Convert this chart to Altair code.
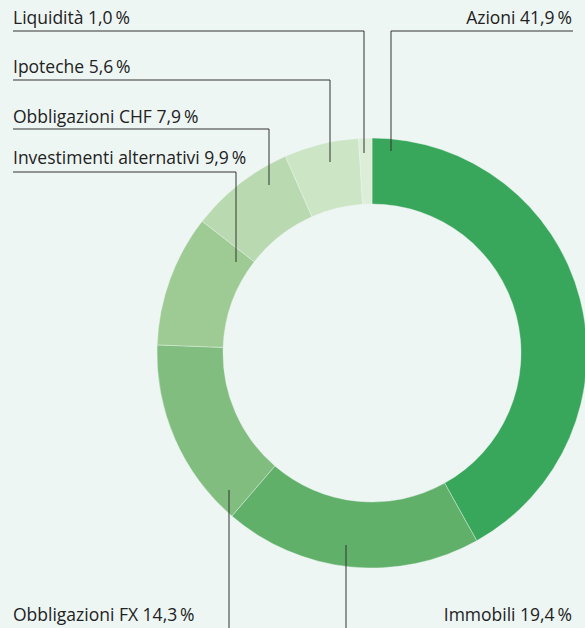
import altair as alt
import pandas as pd

# Data
categories = ["Azioni", "Immobili", "Obbligazioni FX", "Investimenti alternativi",
              "Obbligazioni CHF", "Ipoteche", "Liquidità"]
values = [41.9, 19.4, 14.3, 9.9, 7.9, 5.6, 1.0]
colors = ["#38a75b", "#60b06a", "#80bd7e", "#9ecb93", "#b9dab0", "#cce5c5", "#ddeed8"]

# Label annotations (pixel space)
label_x = [572, 572, 13, 13, 13, 13, 13]
label_y = [24, 621, 621, 164, 123, 73, 24]
label_align = ["right", "right", "left", "left", "left", "left", "left"]

# Leader lines (pixel space): x, y, x2, y2
line_x = [391, 391, 346, 229, 13, 236, 13, 269, 13, 330, 13, 364]
line_y = [31, 31, 545, 490, 172, 172, 129, 129, 80, 80, 31, 31]
line_x2 = [573, 391, 346, 229, 236, 236, 269, 269, 330, 330, 364, 364]
line_y2 = [31, 151, 640, 640, 172, 262, 129, 185, 80, 162, 31, 153]

def fmt(v):
    return f"{v:.1f}".replace(".", ",") + "\u2009%"

df = pd.DataFrame({
    "cat": categories,
    "val": values,
    "order": list(range(len(categories))),
    "label": [f"{c} {fmt(v)}" for c, v in zip(categories, values)],
    "lx": label_x,
    "ly": label_y,
    "align": label_align,
})

lines = pd.DataFrame({"x": line_x, "y": line_y, "x2": line_x2, "y2": line_y2})

BG = "#eef6f4"
FONT = "Open Sans"
FS = 17.5

donut = alt.Chart(df).mark_arc(innerRadius=149, outerRadius=215, stroke=BG, strokeWidth=0.4).encode(
    theta=alt.Theta("val:Q", stack=True),
    order=alt.Order("order:Q", sort="ascending"),
    color=alt.Color("cat:N", scale=alt.Scale(domain=categories, range=colors), legend=None),
    x=alt.value(372),
    y=alt.value(353),
)

rules = alt.Chart(lines).mark_rule(color="#333333", strokeWidth=1).encode(
    x=alt.X("x:Q", scale=None, axis=None),
    y=alt.Y("y:Q", scale=None, axis=None),
    x2="x2:Q",
    y2="y2:Q",
)

left_text = alt.Chart(df[df["align"] == "left"]).mark_text(
    align="left", baseline="alphabetic", font=FONT, fontSize=FS, color="#222222"
).encode(
    x=alt.X("lx:Q", scale=None, axis=None),
    y=alt.Y("ly:Q", scale=None, axis=None),
    text="label:N",
)

right_text = alt.Chart(df[df["align"] == "right"]).mark_text(
    align="right", baseline="alphabetic", font=FONT, fontSize=FS, color="#222222"
).encode(
    x=alt.X("lx:Q", scale=None, axis=None),
    y=alt.Y("ly:Q", scale=None, axis=None),
    text="label:N",
)

chart = alt.layer(donut, rules, left_text, right_text).properties(
    width=585, height=628, padding=0, autosize=alt.AutoSizeParams(type="none"),
    background=BG,
).configure_view(stroke=None, clip=False)

chart.save("out.html", embed_options={"renderer": "svg", "actions": False})
